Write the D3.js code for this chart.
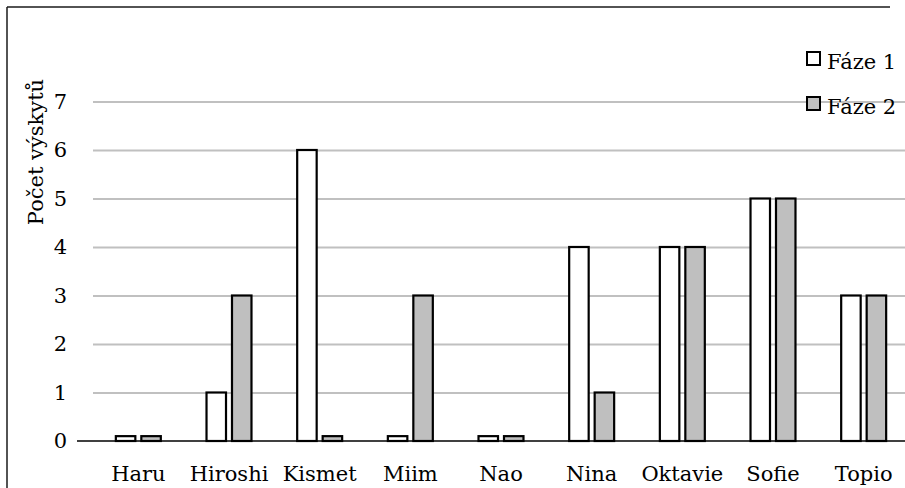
<!DOCTYPE html>
<html>
<head>
<meta charset="utf-8">
<script src="https://cdn.jsdelivr.net/npm/d3@7"></script>
<style>
  html, body { margin: 0; padding: 0; background: #fff; }
  svg { display: block; }
  svg text { font-family: 'DejaVu Serif', serif !important; fill: #000; }
</style>
</head>
<body>
<svg id="chart" width="905" height="488"></svg>
<script>
// Occurrence counts per robot, for the two phases
const categories = ["Haru", "Hiroshi", "Kismet", "Miim", "Nao", "Nina", "Oktavie", "Sofie", "Topio"];
const seriesNames = ["Fáze 1", "Fáze 2"];
const phase1 = [0.1, 1, 6, 0.1, 0.1, 4, 4, 5, 3];
const phase2 = [0.1, 3, 0.1, 3, 0.1, 1, 4, 5, 3];
const yTicks = [0, 1, 2, 3, 4, 5, 6, 7];
const yTitle = "Počet výskytů";

const seriesValues = [phase1, phase2];
const fills = ["#ffffff", "#bfbfbf"];

const svg = d3.select("#chart");
const fontSize = 21;

const x = d3.scaleBand().domain(categories).range([93, 909]).paddingInner(0).paddingOuter(0);
const bw = x.bandwidth();
const x1 = d3.scaleBand().domain(seriesNames).range([bw * 0.252, bw * 0.748]).paddingInner(0.235).paddingOuter(0);
const y = d3.scaleLinear().domain([0, 7]).range([441, 101.5]);

// Outer chart frame (top and left edges)
svg.append("line").attr("x1", 7).attr("x2", 890).attr("y1", 7).attr("y2", 7)
  .attr("stroke", "#1a1a1a").attr("stroke-width", 1.5);
svg.append("line").attr("x1", 7).attr("x2", 7).attr("y1", 7).attr("y2", 488)
  .attr("stroke", "#1a1a1a").attr("stroke-width", 1.5);

// Horizontal gridlines
const yAxis = d3.axisLeft(y).tickValues(yTicks).tickSize(-(909 - 93)).tickPadding(26).tickFormat(d3.format("d"));
const gy = svg.append("g").attr("transform", "translate(93,0)").call(yAxis);
gy.select(".domain").remove();
gy.selectAll(".tick line").attr("stroke", "#c0c0c0").attr("stroke-width", 2)
  .filter(d => d === 0).remove();
gy.selectAll(".tick text").attr("font-size", fontSize);

// Bars
const groups = svg.append("g").selectAll("g").data(categories).join("g")
  .attr("transform", d => `translate(${x(d)},0)`);
seriesNames.forEach((s, si) => {
  groups.append("rect")
    .attr("x", x1(s))
    .attr("width", x1.bandwidth())
    .attr("y", (d, i) => y(seriesValues[si][i]))
    .attr("height", (d, i) => y(0) - y(seriesValues[si][i]))
    .attr("fill", fills[si])
    .attr("stroke", "#000")
    .attr("stroke-width", 2.2);
});

// Category axis baseline and labels
svg.append("line").attr("x1", 77).attr("x2", 909).attr("y1", y(0)).attr("y2", y(0))
  .attr("stroke", "#000").attr("stroke-width", 1.6);
const xAxis = d3.axisBottom(x).tickSize(0).tickPadding(0);
const gx = svg.append("g").attr("transform", `translate(0,${y(0)})`).call(xAxis);
gx.select(".domain").remove();
gx.selectAll(".tick text").attr("font-size", fontSize)
  .attr("dy", null).attr("y", 40);

// Y-axis title
svg.append("text")
  .attr("transform", "translate(43,152) rotate(-90)")
  .attr("text-anchor", "middle")
  .attr("font-size", fontSize)
  .text(yTitle);

// Legend
const legend = svg.append("g").selectAll("g").data(seriesNames).join("g")
  .attr("transform", (d, i) => `translate(807,${52 + i * 45})`);
legend.append("rect").attr("width", 13).attr("height", 13)
  .attr("fill", (d, i) => fills[i]).attr("stroke", "#000").attr("stroke-width", 2);
legend.append("text").attr("x", 20).attr("y", 16.5)
  .attr("font-size", fontSize).text(d => d);
</script>
</body>
</html>
